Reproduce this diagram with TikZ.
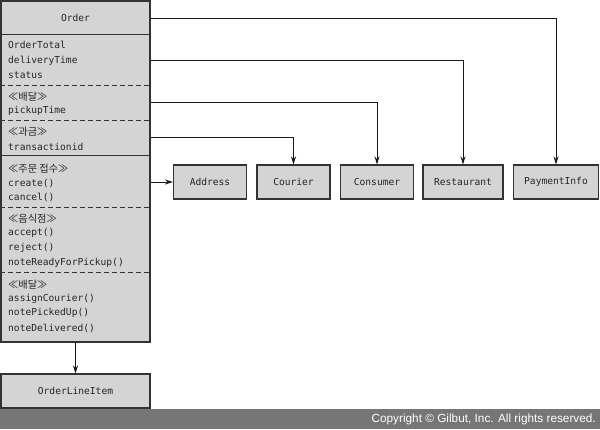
\documentclass[tikz,border=0pt]{standalone}
\usepackage{fontspec}
\setmonofont{DejaVu Sans Mono}
\newfontfamily\kr{Noto Sans CJK KR}
\newfontfamily\cpfont{Liberation Sans}
\usetikzlibrary{arrows.meta,calc}
\definecolor{boxfill}{HTML}{D4D4D4}
\definecolor{boxline}{HTML}{333333}
\definecolor{barfill}{HTML}{767676}
\begin{document}
\begin{tikzpicture}[x=1pt,y=-1pt,
  cls/.style={draw=boxline,fill=boxfill,line width=1.1pt,inner sep=0pt,text=black!85,font=\ttfamily\fontsize{9.6}{11}\selectfont},
  txt/.style={anchor=west,inner sep=0pt,font=\ttfamily\fontsize{9.6}{11}\selectfont,text=black!85},
  ster/.style={anchor=west,inner sep=0pt,font=\kr\fontsize{10.2}{11}\selectfont,text=black!85},
  sep/.style={draw=boxline,line width=1pt},
  dsep/.style={draw=boxline,line width=1pt,dash pattern=on 5pt off 3pt},
  conn/.style={draw=black!90,line width=1pt,-{Stealth[length=8pt,width=5pt]}}]
\useasboundingbox (0,0) rectangle (600,429);
% Order class
\node[cls,minimum width=149pt,minimum height=341pt] (order) at (75.5,171.5) {};
\node[inner sep=0pt,text=black!85,font=\ttfamily\fontsize{9.6}{11}\selectfont] (ordername) at (75.5,18) {Order};
\draw[sep] (order.west |- 0,34) -- (order.east |- 0,34);
\draw[dsep] (order.west |- 0,85) -- (order.east |- 0,85);
\draw[dsep] (order.west |- 0,120) -- (order.east |- 0,120);
\draw[sep] (order.west |- 0,155) -- (order.east |- 0,155);
\draw[dsep] (order.west |- 0,207) -- (order.east |- 0,207);
\draw[dsep] (order.west |- 0,272) -- (order.east |- 0,272);
% text lines
\node[txt] (t1) at (8,45) {OrderTotal};
\node[txt] (t2) at (8,60.5) {deliveryTime};
\node[txt] (t3) at (8,75.5) {status};
\node[ster] (s1) at (8,97) {≪배달≫};
\node[txt] (t4) at (8,111) {pickupTime};
\node[ster] (s2) at (8,132) {≪과금≫};
\node[txt] (t5) at (8,146.5) {transactionid};
\node[ster] (s3) at (8,169) {≪주문 접수≫};
\node[txt] (t6) at (8,183) {create()};
\node[txt] (t7) at (8,197) {cancel()};
\node[ster] (s4) at (8,219) {≪음식점≫};
\node[txt] (t8) at (8,233) {accept()};
\node[txt] (t9) at (8,248) {reject()};
\node[txt] (t10) at (8,263) {noteReadyForPickup()};
\node[ster] (s5) at (8,285) {≪배달≫};
\node[txt] (t11) at (8,298.5) {assignCourier()};
\node[txt] (t12) at (8,313) {notePickedUp()};
\node[txt] (t13) at (8,328) {noteDelivered()};
% other classes
\node[cls,minimum width=73pt,minimum height=34pt] (address) at (210,182) {Address};
\node[cls,minimum width=73pt,minimum height=34pt] (courier) at (293.5,182) {Courier};
\node[cls,minimum width=73pt,minimum height=34pt] (consumer) at (377,182) {Consumer};
\node[cls,minimum width=80pt,minimum height=34pt] (restaurant) at (463,182) {Restaurant};
\node[cls,minimum width=85pt,minimum height=34pt] (payment) at (556,182) {PaymentInfo};
\node[cls,minimum width=149pt,minimum height=34pt] (oli) at (75.5,391) {OrderLineItem};
% connector start points
\coordinate (p1) at (order.east |- 0,18);
\coordinate (p2) at (order.east |- 0,60.5);
\coordinate (p3) at (order.east |- 0,102.5);
\coordinate (p4) at (order.east |- 0,137.5);
\coordinate (p5) at (order.east |- address);
\draw[conn] (p1) -| (payment.north);
\draw[conn] (p2) -| (restaurant.north);
\draw[conn] (p3) -| (consumer.north);
\draw[conn] (p4) -| (courier.north);
\draw[conn] (p5) -- (address.west);
\draw[conn] (order.south) -- (oli.north);
% copyright bar
\fill[barfill] (0,409) rectangle (600,429);
\node[anchor=east,inner sep=0pt,text=white,font=\cpfont\fontsize{11.8}{13}\selectfont] (copy) at (596,419.5) {Copyright © Gilbut, Inc. All rights reserved.};
\end{tikzpicture}
\end{document}
